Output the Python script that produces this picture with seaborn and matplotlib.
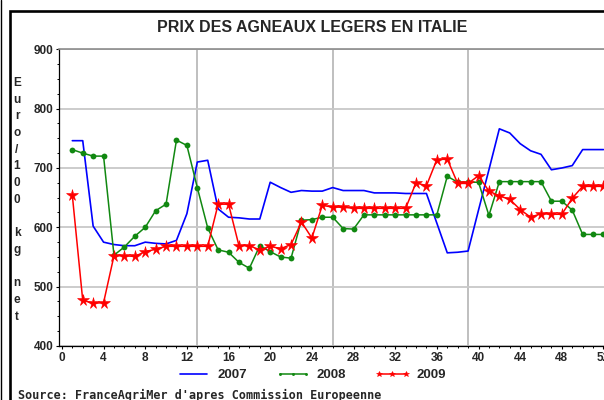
import matplotlib
matplotlib.use("Agg")
import matplotlib.pyplot as plt
import seaborn as sns
import pandas as pd
from matplotlib.patches import Rectangle
from matplotlib.lines import Line2D
from matplotlib.ticker import MultipleLocator

# weekly light lamb prices, euro / 100 kg net
weeks = list(range(1, 53))
prix_2007 = [746, 746, 602, 575, 571, 569, 569, 575, 573, 572,
             578, 623, 710, 713, 631, 617, 616, 614, 614, 676,
             667, 659, 662, 661, 661, 667, 662, 662, 662, 658,
             658, 658, 657, 657, 657, 607, 557, 558, 560, 629,
             697, 766, 759, 741, 729, 723, 697, 700, 704, 731,
             731, 731]
prix_2008 = [731, 725, 720, 720, 553, 567, 585, 600, 628, 639,
             747, 738, 667, 599, 562, 558, 541, 531, 569, 559,
             550, 548, 612, 613, 617, 617, 598, 597, 621, 621,
             621, 621, 621, 621, 621, 621, 686, 676, 676, 676,
             620, 677, 677, 677, 677, 677, 644, 644, 629, 588,
             588, 588]
prix_2009 = [654, 477, 472, 473, 552, 552, 551, 559, 563, 568,
             568, 568, 568, 568, 639, 639, 569, 569, 562, 568,
             564, 571, 609, 582, 637, 634, 634, 632, 632, 632,
             632, 632, 632, 675, 670, 714, 715, 674, 674, 687,
             661, 653, 647, 630, 617, 623, 622, 622, 649, 669,
             669, 669]
x_ticks = list(range(0, 53, 4))
y_ticks = [400, 500, 600, 700, 800, 900]
quarter_weeks = [13, 26, 39]

sns.set_style("white")
plt.rcParams["font.family"] = ["Liberation Sans", "DejaVu Sans"]
plt.rcParams["font.weight"] = "bold"

fig = plt.figure(figsize=(6.04, 4.0), dpi=100)
W, H = 604.0, 400.0

# outer frame
fig.add_artist(Rectangle((10 / W, -0.2), 2.0, (H - 11) / H + 0.2,
                         transform=fig.transFigure, fill=False,
                         lw=1.9, edgecolor="black"))
fig.add_artist(Line2D([0.8 / W, 0.8 / W], [0, 1], transform=fig.transFigure,
                      lw=1.0, color="black"))

ax = fig.add_axes([59.3 / W, 54 / H, 549.4 / W, 296.7 / H])

sns.lineplot(x=weeks, y=prix_2007, ax=ax, color="#0000ff", lw=1.2,
             label="2007")
sns.lineplot(x=weeks, y=prix_2008, ax=ax, color="#118811", lw=1.1,
             marker="o", markersize=4.2, markeredgewidth=0,
             label="2008")
sns.lineplot(x=weeks, y=prix_2009, ax=ax, color="#ff0000", lw=1.1,
             marker="*", markersize=8.5, markeredgewidth=0.4,
             markeredgecolor="#ff0000", label="2009")

ax.set_xlim(-0.25, 52.5)
ax.set_ylim(400, 900)
ax.set_xticks(x_ticks)
ax.set_yticks(y_ticks)
ax.xaxis.set_minor_locator(MultipleLocator(1))
ax.yaxis.set_minor_locator(MultipleLocator(25))
ax.tick_params(axis="both", which="major", direction="out", length=2.4,
               width=0.8, color="black", labelsize=8.5, pad=2)
ax.tick_params(axis="both", which="minor", direction="out", length=1.5,
               width=0.7, color="black")
ax.tick_params(left=True, bottom=True)
ax.tick_params(axis="both", which="minor", left=True, bottom=True)
for lab in ax.get_xticklabels() + ax.get_yticklabels():
    lab.set_fontweight("bold")

ax.yaxis.grid(True, color="#c8c8c8", lw=1.3)
ax.set_axisbelow(True)
for q in quarter_weeks:
    ax.axvline(q, color="#b4b4b4", lw=1.2, zorder=0)

ax.spines["left"].set_color("black")
ax.spines["bottom"].set_color("black")
ax.spines["left"].set_linewidth(0.9)
ax.spines["bottom"].set_linewidth(0.9)
ax.spines["top"].set_color("#8c8c8c")
ax.spines["top"].set_linewidth(1.2)
ax.spines["right"].set_visible(False)
ax.set_xlabel("")
ax.set_ylabel("")

fig.text(312 / W, 1 - 28 / H, "PRIX DES AGNEAUX LEGERS EN ITALIE",
         ha="center", va="center", fontsize=11.5, fontweight="bold")

fig.text(17 / W, 1 - 77 / H, "\n".join(list("Euro/100 kg net")),
         ha="center", va="top", fontsize=8.5, fontweight="bold",
         linespacing=1.52)

handles, labels = ax.get_legend_handles_labels()
ax.legend_.remove()
fig.legend(handles, labels, loc="center", bbox_to_anchor=(311 / W, 1 - 375 / H),
           ncol=3, frameon=False, numpoints=3,
           handlelength=2.6, columnspacing=2.2, handletextpad=0.5,
           markerscale=0.5, prop={"weight": "bold", "size": 9.5})

fig.text(18 / W, 1 - 395 / H,
         "Source: FranceAgriMer d'apres Commission Europeenne",
         ha="left", va="center", fontsize=8.5, fontweight="bold",
         family="DejaVu Sans Mono")

fig.savefig("out.png", dpi=100)
